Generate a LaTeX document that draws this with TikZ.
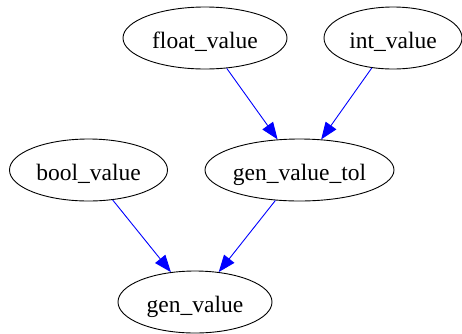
\documentclass[tikz,border=0pt]{standalone}
\usepackage{fontspec}
\setmainfont{Liberation Serif}
\usetikzlibrary{shapes.geometric,arrows.meta}

\tikzset{
  valnode/.style={ellipse, draw=black, line width=0.9pt, inner sep=0pt,
    minimum height=62pt, text height=22pt, text depth=2pt,
    font=\fontsize{23.5pt}{26pt}\selectfont},
  depedge/.style={draw=blue, line width=0.9pt,
    -{Triangle[length=17pt,width=13pt,fill=blue]}},
}

\begin{document}
\begin{tikzpicture}[x=1pt,y=-1pt]
  \useasboundingbox (0,0) rectangle (462,333);

  % sources
  \node[valnode, minimum width=164pt] (float) at (205,38)    {float\_value};
  \node[valnode, minimum width=138pt] (int)   at (393,38)    {int\_value};
  % middle rank
  \node[valnode, minimum width=158pt] (bool)  at (88.5,170)  {bool\_value};
  \node[valnode, minimum width=189pt] (tol)   at (299.5,170) {gen\_value\_tol};
  % sink
  \node[valnode, minimum width=154pt] (gen)   at (195,302)   {gen\_value};

  \draw[depedge] (float) -- (tol);
  \draw[depedge] (int)   -- (tol);
  \draw[depedge] (bool)  -- (gen);
  \draw[depedge] (tol)   -- (gen);
\end{tikzpicture}
\end{document}
